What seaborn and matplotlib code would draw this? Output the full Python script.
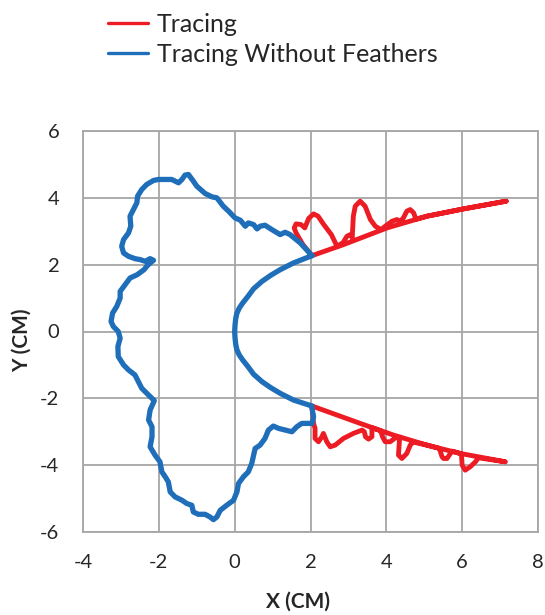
import matplotlib
matplotlib.use("Agg")
import matplotlib.pyplot as plt
from matplotlib.lines import Line2D
import pandas as pd
import seaborn as sns

# Outline of the shape without feathers (outer edge, then inner curve back to start)
outline_x = [2.04, 1.73, 1.46, 1.33, 1.20, 0.98, 0.80, 0.67, 0.59, 0.50, 0.36, 0.28, 0.15, 0.01,
             -0.16, -0.30, -0.47, -0.60, -0.78, -1.00, -1.09, -1.22, -1.31, -1.39, -1.48, -1.66,
             -1.83, -2.01, -2.14, -2.32, -2.45, -2.56, -2.58, -2.67, -2.76, -2.74, -2.80, -2.93,
             -2.98, -2.93, -2.80, -2.63, -2.49, -2.36, -2.23, -2.14, -2.23, -2.32, -2.39, -2.57,
             -2.76, -2.89, -3.02, -3.02, -3.11, -3.22, -3.26, -3.20, -3.07, -3.02, -3.08, -3.07,
             -2.93, -2.80, -2.63, -2.54, -2.45, -2.27, -2.12, -2.23, -2.27, -2.18, -2.18, -2.23,
             -2.10, -1.97, -1.92, -1.83, -1.75, -1.70, -1.57, -1.39, -1.26, -1.13, -1.09, -0.96,
             -0.78, -0.65, -0.56, -0.47, -0.38, -0.21, -0.03, 0.06, 0.10, 0.23, 0.36, 0.45, 0.50,
             0.54, 0.67, 0.80, 0.89, 1.02, 1.16, 1.33, 1.51, 1.64, 1.77, 1.91, 2.04, 2.08, 2.04,
             2.04,
             1.55, 1.20, 0.95, 0.72, 0.50, 0.35, 0.21, 0.12, 0.06, 0.03, 0.01, 0.00,
             0.01, 0.03, 0.06, 0.12, 0.21, 0.35, 0.50, 0.72, 0.95, 1.20, 1.55, 2.04]
outline_y = [2.27, 2.65, 2.90, 2.97, 2.90, 3.05, 3.18, 3.15, 3.07, 3.20, 3.25, 3.15, 3.33, 3.40,
             3.60, 3.75, 4.00, 4.03, 4.13, 4.35, 4.50, 4.70, 4.68, 4.55, 4.45, 4.55,
             4.55, 4.55, 4.52, 4.40, 4.25, 4.05, 3.85, 3.65, 3.45, 3.15, 2.95, 2.75,
             2.55, 2.35, 2.25, 2.18, 2.15, 2.10, 2.18, 2.13, 2.05, 1.95, 1.85, 1.70,
             1.60, 1.40, 1.20, 1.00, 0.75, 0.55, 0.30, 0.15, 0.00, -0.20, -0.45, -0.75,
             -1.00, -1.15, -1.30, -1.50, -1.70, -1.90, -2.07, -2.35, -2.65, -2.85, -3.15, -3.45,
             -3.70, -3.90, -4.20, -4.35, -4.50, -4.80, -4.95, -5.05, -5.15, -5.20, -5.40, -5.47,
             -5.47, -5.55, -5.63, -5.55, -5.35, -5.20, -5.05, -4.80, -4.55, -4.35, -4.20, -3.95, -3.70,
             -3.50, -3.40, -3.20, -2.95, -2.83, -2.90, -2.95, -3.00, -2.85, -2.75, -2.75, -2.75, -2.55, -2.30,
             -2.23,
             -2.05, -1.85, -1.68, -1.50, -1.28, -1.05, -0.85, -0.70, -0.55, -0.40, -0.20, 0.00,
             0.20, 0.40, 0.55, 0.70, 0.85, 1.05, 1.28, 1.50, 1.68, 1.85, 2.05, 2.27]

# Upper arm of the full tracing: feathered edge out to the tip, inner edge back
upper_x = [2.04, 1.80, 1.62, 1.57, 1.62, 1.75, 1.85, 1.95, 2.08, 2.20, 2.35, 2.55, 2.70,
           2.86, 2.96, 3.05, 3.10, 3.13, 3.18, 3.31, 3.44, 3.58, 3.71, 3.86,
           3.97, 4.15, 4.28, 4.37, 4.45, 4.54, 4.63, 4.72, 4.78,
           5.07, 6.04, 7.16,
           6.04, 5.07, 4.02, 2.87, 2.04]
upper_y = [2.27, 2.60, 2.95, 3.10, 3.22, 3.20, 3.10, 3.38, 3.52, 3.45, 3.20, 2.90, 2.55,
           2.66, 2.85, 2.90, 2.81, 3.45, 3.75, 3.90, 3.75, 3.35, 3.15, 3.05,
           3.15, 3.30, 3.35, 3.30, 3.40, 3.60, 3.65, 3.55, 3.36,
           3.45, 3.67, 3.90,
           3.67, 3.45, 3.10, 2.60, 2.27]

# Lower arm of the full tracing
lower_x = [2.04, 2.08, 2.12, 2.12, 2.21, 2.30, 2.34, 2.43, 2.52, 2.65, 2.87, 3.13, 3.36,
           3.42, 3.45, 3.53, 3.62, 3.62, 3.85, 3.90, 3.97, 4.10, 4.24, 4.35,
           4.32, 4.41, 4.54, 4.63, 4.71, 5.07, 5.40, 5.47, 5.51, 5.60, 5.69, 5.74,
           5.98, 6.00, 6.08, 6.21, 6.35, 6.43, 7.14,
           5.95, 5.07, 4.19, 3.31, 2.04]
lower_y = [-2.23, -2.75, -2.90, -3.20, -3.30, -3.15, -3.05, -3.30, -3.45, -3.40, -3.20, -3.05, -2.95,
           -3.00, -3.15, -3.22, -3.15, -2.88, -2.97, -3.15, -3.30, -3.30, -3.18, -3.18,
           -3.70, -3.80, -3.65, -3.40, -3.31, -3.40, -3.50, -3.75, -3.80, -3.80, -3.65, -3.58,
           -3.66, -4.00, -4.15, -4.05, -3.90, -3.78, -3.90,
           -3.65, -3.40, -3.10, -2.75, -2.23]

x_ticks = [-4, -2, 0, 2, 4, 6, 8]
y_ticks = [-6, -4, -2, 0, 2, 4, 6]

RED = "#ED1C24"
BLUE = "#1F6EB9"
GRID = "#A6A6A6"
TEXT = "#262626"

sns.set_theme(style="whitegrid")
plt.rcParams["font.family"] = ["Lato", "DejaVu Sans"]

fig = plt.figure(figsize=(5.45, 6.15), dpi=100)
ax = fig.add_axes([83 / 545, 1 - 532 / 615, 455 / 545, 401 / 615])

traced = pd.concat([
    pd.DataFrame({"x": upper_x, "y": upper_y, "part": "upper"}),
    pd.DataFrame({"x": lower_x, "y": lower_y, "part": "lower"}),
])
bare = pd.DataFrame({"x": outline_x, "y": outline_y, "part": "outline"})

sns.lineplot(data=traced, x="x", y="y", units="part", estimator=None, sort=False,
             color=RED, linewidth=3.5, ax=ax, legend=False)
sns.lineplot(data=bare, x="x", y="y", units="part", estimator=None, sort=False,
             color=BLUE, linewidth=3.8, ax=ax, legend=False)

for ln in ax.get_lines():
    ln.set_solid_joinstyle("round")
    ln.set_solid_capstyle("round")

ax.set_xlim(-4, 8)
ax.set_ylim(-6, 6)
ax.set_xticks(x_ticks)
ax.set_yticks(y_ticks)
ax.set_xticklabels([str(v) for v in x_ticks])
ax.set_yticklabels([str(v) for v in y_ticks])
ax.tick_params(axis="both", length=0, labelsize=14.5, colors=TEXT)
ax.tick_params(axis="x", pad=16)
ax.tick_params(axis="y", pad=17)
ax.grid(True, color=GRID, linewidth=1.3)
for sp in ax.spines.values():
    sp.set_visible(True)
    sp.set_color(GRID)
    sp.set_linewidth(1.3)
ax.set_facecolor("white")

ax.set_xlabel("X (CM)", fontsize=15, fontweight="bold", color=TEXT)
ax.set_ylabel("Y (CM)", fontsize=15, fontweight="bold", color=TEXT)
ax.xaxis.set_label_coords(0.473, -0.148)
ax.yaxis.set_label_coords(-0.112, 0.479)

handles = [Line2D([], [], color=RED, linewidth=2.4),
           Line2D([], [], color=BLUE, linewidth=2.4)]
fig.legend(handles, ["Tracing", "Tracing Without Feathers"],
           loc="upper left", bbox_to_anchor=(0.157, 1.016), frameon=False,
           fontsize=18, handlelength=1.6, handletextpad=0.35, labelspacing=0.3,
           labelcolor=TEXT)

fig.savefig("out.png", dpi=100, facecolor="white")
